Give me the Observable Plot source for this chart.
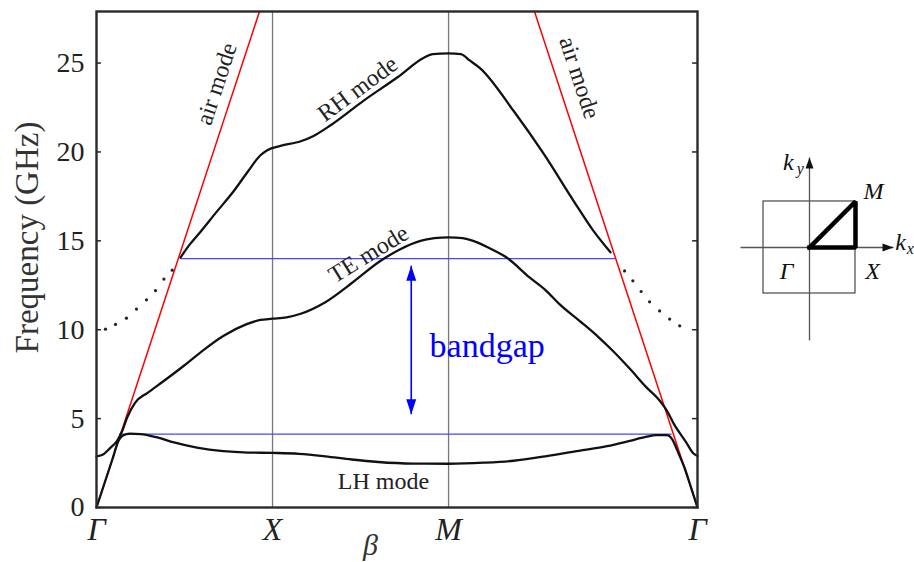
<!DOCTYPE html>
<html>
<head>
<meta charset="utf-8">
<script src="https://cdn.jsdelivr.net/npm/d3@7"></script>
<script src="https://cdn.jsdelivr.net/npm/@observablehq/plot@0.6"></script>
<style>
  html, body { margin: 0; padding: 0; background: #fff; }
  #chart { position: relative; width: 914px; height: 562px; overflow: hidden; }
  #band { position: absolute; left: 0; top: 0; }
  #zone { position: absolute; left: 740px; top: 130px; }
  svg text { font-family: "Liberation Serif", "Times New Roman", serif; }
</style>
</head>
<body>
<div id="chart"><div id="band"></div><div id="zone"></div></div>
<script>
// Reduced wave vector along Γ–X–M–Γ (Γ–X = 1, X–M = 1, M–Γ = √2)
const kGammaEnd = 2 + Math.SQRT2;
const symLabels = ["Γ", "X", "M", "Γ"];
const symPositions = [0, 1, 2, kGammaEnd];
const freqTicks = [0, 5, 10, 15, 20, 25];
const freqMax = 27.9;

// Dispersion branches: [k, frequency in GHz]
const lhMode = [
  [0, 0], [0.045, 1.35], [0.09, 2.7], [0.125, 3.75], [0.15, 4.05], [0.19, 4.15],
  [0.25, 4.13], [0.345, 3.94], [0.44, 3.66], [0.57, 3.37], [0.72, 3.17], [0.86, 3.09],
  [1.0, 3.07], [1.15, 3.02], [1.3, 2.88], [1.45, 2.7], [1.6, 2.56], [1.8, 2.47],
  [2.0, 2.46], [2.2, 2.52], [2.37, 2.63], [2.55, 2.88], [2.74, 3.19], [2.9, 3.45],
  [3.03, 3.75], [3.12, 3.97], [3.18, 4.07], [3.24, 4.07], [3.27, 3.85], [3.3, 3.2],
  [3.34, 2.25], [3.38, 1.05], [kGammaEnd, 0]
];
const teMode = [
  [0, 2.88], [0.04, 3.0], [0.08, 3.37], [0.117, 3.75], [0.146, 4.3], [0.174, 5.06],
  [0.22, 5.9], [0.29, 6.45], [0.38, 7.1], [0.5, 8.0], [0.6, 8.8], [0.72, 9.65],
  [0.85, 10.3], [0.93, 10.55], [1.0, 10.62], [1.08, 10.7], [1.16, 10.9], [1.3, 11.55],
  [1.46, 12.7], [1.61, 13.85], [1.72, 14.5], [1.84, 15.0], [1.92, 15.15], [2.0, 15.2],
  [2.08, 15.15], [2.14, 15.0], [2.23, 14.6], [2.33, 14.06], [2.46, 12.94], [2.555, 12.19],
  [2.63, 11.44], [2.744, 10.5], [2.85, 9.6], [2.934, 8.8], [3.03, 7.8], [3.12, 6.8],
  [3.2, 6.0], [3.24, 5.45], [3.28, 4.7], [3.35, 3.66], [3.39, 3.05], [kGammaEnd, 2.9]
];
const rhMode = [
  [0.477, 14.06], [0.53, 14.8], [0.59, 15.5], [0.68, 16.6], [0.78, 17.8], [0.86, 18.9],
  [0.93, 19.8], [0.97, 20.1], [1.045, 20.34], [1.16, 20.6], [1.233, 20.9], [1.33, 21.5],
  [1.52, 22.9], [1.71, 24.2], [1.86, 25.3], [1.91, 25.5], [2.0, 25.55], [2.07, 25.5],
  [2.12, 25.15], [2.18, 24.7], [2.37, 22.3], [2.54, 19.9], [2.71, 17.25], [2.82, 15.6],
  [2.92, 14.35]
];
// Sparse points of the upper air-like branch near Γ
const upperLeftDots = [
  [0.051, 10.03], [0.108, 10.3], [0.17, 10.65], [0.227, 11.16], [0.284, 11.68],
  [0.335, 12.2], [0.383, 12.85], [0.43, 13.35]
];
const upperRightDots = [
  [3.0, 13.31], [3.047, 12.75], [3.094, 12.15], [3.142, 11.57], [3.199, 11.06],
  [3.256, 10.6], [3.313, 10.22]
];
// Light lines (air mode)
const airLeft = [[0, 0], [0.926, freqMax]];
const airRight = [[kGammaEnd - 0.926, freqMax], [kGammaEnd, 0]];

// Band gap edges and marker
const gapLower = [[0.13, 4.13], [3.265, 4.13]];
const gapUpper = [[0.477, 14.0], [2.943, 14.0]];
const gapArrow = {k: 1.788, f1: 5.25, f2: 13.6};

const modeLabels = [
  {text: "air mode", k: 0.682, f: 23.83, angle: -71.8},
  {text: "air mode", k: 2.744, f: 24.17, angle: 71.8},
  {text: "RH mode", k: 1.483, f: 23.55, angle: -36.5},
  {text: "TE mode", k: 1.545, f: 14.26, angle: -31.5},
  {text: "LH mode", k: 1.63, f: 1.5, angle: 0}
];

const SERIF = "Liberation Serif";
const tickLen = 0.028;

// Filled arrowheads with the tip at the anchor point
const headUp = {draw(c) { c.moveTo(0, 0); c.lineTo(-5, 15); c.lineTo(5, 15); c.closePath(); }};
const headDown = {draw(c) { c.moveTo(0, 0); c.lineTo(-5, -15); c.lineTo(5, -15); c.closePath(); }};

const band = Plot.plot({
  width: 720,
  height: 562,
  marginLeft: 96,
  marginRight: 23,
  marginTop: 11,
  marginBottom: 55,
  x: {domain: [0, kGammaEnd], axis: null},
  y: {domain: [0, freqMax], axis: null},
  marks: [
    Plot.ruleX(symPositions.slice(1, 3), {stroke: "#777", strokeWidth: 1.3}),
    Plot.ruleY(freqTicks, {x1: 0, x2: tickLen, stroke: "#222", strokeWidth: 1.5}),
    Plot.ruleY(freqTicks, {x1: kGammaEnd - tickLen, x2: kGammaEnd, stroke: "#222", strokeWidth: 1.5}),
    Plot.line(gapLower, {stroke: "#4646ff", strokeWidth: 1.3}),
    Plot.line(gapUpper, {stroke: "#4646ff", strokeWidth: 1.3}),
    Plot.line(airLeft, {stroke: "#ff0000", strokeWidth: 1.5}),
    Plot.line(airRight, {stroke: "#ff0000", strokeWidth: 1.5}),
    Plot.line(lhMode, {stroke: "#111", strokeWidth: 2.3, curve: "monotone-x"}),
    Plot.line(teMode, {stroke: "#111", strokeWidth: 2.3, curve: "monotone-x"}),
    Plot.line(rhMode, {stroke: "#111", strokeWidth: 2.3, curve: "monotone-x"}),
    Plot.dot(upperLeftDots, {r: 1.6, fill: "#222", stroke: null}),
    Plot.dot(upperRightDots, {r: 1.6, fill: "#222", stroke: null}),
    Plot.link([gapArrow], {x1: "k", x2: "k", y1: "f1", y2: "f2", stroke: "#0000ff", strokeWidth: 1.6}),
    Plot.dot([gapArrow], {x: "k", y: "f2", symbol: headUp, r: 5, fill: "#0000ff", stroke: null}),
    Plot.dot([gapArrow], {x: "k", y: "f1", symbol: headDown, r: 5, fill: "#0000ff", stroke: null}),
    Plot.text(["bandgap"], {x: 1.892, y: 9.1, textAnchor: "start", fontSize: 34, fontFamily: SERIF, fill: "#0000ff"}),
    Plot.text(modeLabels, {x: "k", y: "f", text: "text", rotate: "angle", fontSize: 24, fontFamily: SERIF, fill: "#222"}),
    Plot.frame({stroke: "#2a2a2a", strokeWidth: 2.4}),
    // frequency axis labels
    Plot.text(freqTicks, {y: d => d, text: d => String(d), frameAnchor: "left", textAnchor: "end",
      dx: -12, fontSize: 28, fontFamily: SERIF, fill: "#222"}),
    Plot.text(["Frequency (GHz)"], {frameAnchor: "left", textAnchor: "middle", lineAnchor: "middle",
      rotate: -90, dx: -69, dy: -22, fontSize: 33, fontFamily: SERIF, fill: "#333"}),
    // symmetry-point labels along the wave-vector axis
    Plot.text(symPositions, {x: d => d, text: (d, i) => symLabels[i], frameAnchor: "bottom",
      lineAnchor: "middle", dy: 22, fontSize: 32, fontStyle: "italic", fontFamily: SERIF, fill: "#222"}),
    Plot.text(["β"], {x: 1.557, frameAnchor: "bottom", lineAnchor: "middle", dy: 38, fontSize: 30,
      fontStyle: "italic", fontFamily: SERIF, fill: "#333"})
  ]
});
document.getElementById("band").appendChild(band);

// First Brillouin zone of the square lattice with the irreducible path Γ–X–M–Γ
const zoneCorners = [{x1: -1, x2: 1, y1: -1, y2: 1}];
const irreduciblePath = [[0, 0], [1, 0], [1, 1], [0, 0]];
const kxAxis = {x1: -1.5, x2: 1.826, y: 0};
const kyAxis = {y1: -2.02, y2: 1.957, x: 0};
const zonePoints = [
  {text: "Γ", x: -0.5, y: -0.52},
  {text: "X", x: 1.37, y: -0.52},
  {text: "M", x: 1.39, y: 1.22}
];
const axisNames = [
  {text: "k", sub: "y", x: -0.46, y: 1.85, sx: -0.2, sy: 1.7},
  {text: "k", sub: "x", x: 1.978, y: 0.11, sx: 2.19, sy: -0.03}
];
const headRight = {draw(c) { c.moveTo(0, 0); c.lineTo(-11, -4); c.lineTo(-11, 4); c.closePath(); }};
const headTop = {draw(c) { c.moveTo(0, 0); c.lineTo(-4, 11); c.lineTo(4, 11); c.closePath(); }};

const zone = Plot.plot({
  width: 174,
  height: 220,
  margin: 0,
  x: {domain: [-1.5, 2.283], axis: null},
  y: {domain: [-2.239, 2.543], axis: null},
  marks: [
    Plot.rect(zoneCorners, {x1: "x1", x2: "x2", y1: "y1", y2: "y2", fill: "none", stroke: "#222", strokeWidth: 1}),
    Plot.link([kxAxis], {x1: "x1", x2: "x2", y1: "y", y2: "y", stroke: "#555", strokeWidth: 1.3}),
    Plot.link([kyAxis], {x1: "x", x2: "x", y1: "y1", y2: "y2", stroke: "#555", strokeWidth: 1.3}),
    Plot.dot([kxAxis], {x: "x2", y: "y", symbol: headRight, r: 4, fill: "#111", stroke: null}),
    Plot.dot([kyAxis], {x: "x", y: "y2", symbol: headTop, r: 4, fill: "#111", stroke: null}),
    Plot.line(irreduciblePath, {stroke: "#000", strokeWidth: 4.5, strokeLinejoin: "miter", strokeLinecap: "square"}),
    Plot.text(zonePoints, {x: "x", y: "y", text: "text", fontSize: 24, fontStyle: "italic", fontFamily: SERIF, fill: "#111"}),
    Plot.text(axisNames, {x: "x", y: "y", text: "text", fontSize: 24, fontStyle: "italic", fontFamily: SERIF, fill: "#111"}),
    Plot.text(axisNames, {x: "sx", y: "sy", text: "sub", fontSize: 16, fontStyle: "italic", fontFamily: SERIF, fill: "#111"})
  ]
});
document.getElementById("zone").appendChild(zone);
</script>
</body>
</html>
